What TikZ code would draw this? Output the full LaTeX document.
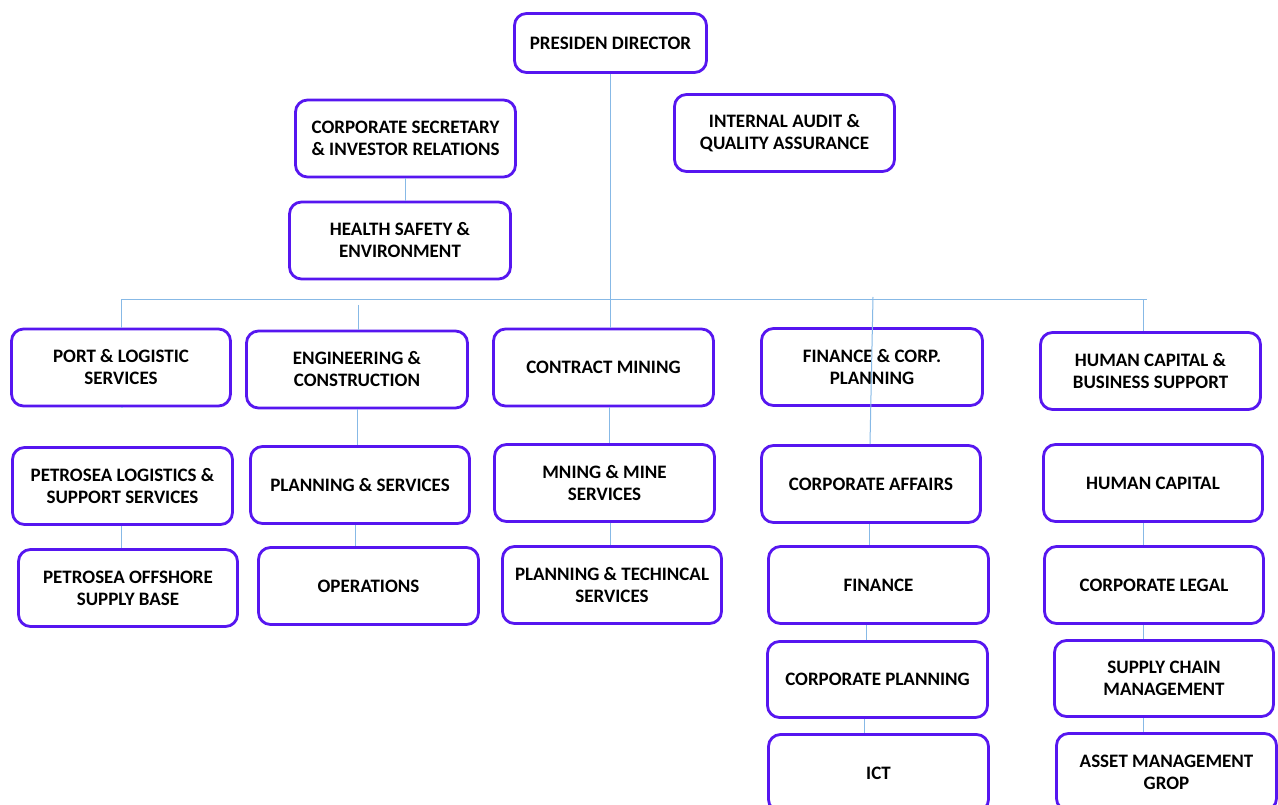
\documentclass[tikz,border=0pt]{standalone}
\usepackage{fontspec}
\setmainfont{Carlito}
\definecolor{boxc}{RGB}{86,22,240}
\definecolor{linec}{RGB}{135,185,230}
\begin{document}
\begin{tikzpicture}[x=1pt,y=-1pt,
  orgbox/.style={draw=boxc, line width=2.8pt, rounded corners=12pt, fill=white,
    minimum width=#1, minimum height=77pt, align=center, inner sep=0pt,
    font=\fontsize{19}{22}\selectfont\bfseries},
  orgbox/.default=220pt,
  conn/.style={draw=linec, line width=1pt}]
\useasboundingbox (0,0) rectangle (1278,805);
\fill[white] (0,0) rectangle (1278,805);

\coordinate (tl) at (121,300);
\coordinate (tr) at (1147,300);
\coordinate (ef) at (358,305);
\coordinate (ff) at (873,297);

% nodes
\node[orgbox=192pt, minimum height=59pt] (pres) at (610.5,43) {PRESIDEN DIRECTOR};
\node[orgbox] (cs) at (405.5,138.5) {CORPORATE SECRETARY\\\& INVESTOR RELATIONS};
\node[orgbox=221pt] (hse) at (400,240.5) {HEALTH SAFETY \&\\ENVIRONMENT};
\node[orgbox] (ia) at (784.5,133) {INTERNAL AUDIT \&\\QUALITY ASSURANCE};

\node[orgbox=219pt] (port) at (121,367.5) {PORT \& LOGISTIC\\SERVICES};
\node[orgbox=221pt] (eng) at (357,369.5) {ENGINEERING \&\\CONSTRUCTION};
\node[orgbox] (cm) at (603.5,367.5) {CONTRACT MINING};
\node[orgbox=221pt] (fin) at (872,367) {FINANCE \& CORP.\\PLANNING};
\node[orgbox] (hcb) at (1150.5,371) {HUMAN CAPITAL \&\\BUSINESS SUPPORT};

\node[orgbox] (pl) at (122.5,486) {PETROSEA LOGISTICS \&\\SUPPORT SERVICES};
\node[orgbox=219pt] (ps) at (360,485) {PLANNING \& SERVICES};
\node[orgbox] (mm) at (604.5,483) {MNING \& MINE\\SERVICES};
\node[orgbox=219pt] (ca) at (871,484) {CORPORATE AFFAIRS};
\node[orgbox=219pt] (hc) at (1153,483) {HUMAN CAPITAL};

\node[orgbox=219pt] (po) at (128,588) {PETROSEA OFFSHORE\\SUPPLY BASE};
\node[orgbox] (op) at (368.5,586) {OPERATIONS};
\node[orgbox=219pt] (pt) at (612,585) {PLANNING \& TECHINCAL\\SERVICES};
\node[orgbox] (fn) at (878.5,585) {FINANCE};
\node[orgbox=219pt] (cl) at (1154,585) {CORPORATE LEGAL};

\node[orgbox, minimum height=76pt] (cp) at (877.5,679.5) {CORPORATE PLANNING};
\node[orgbox=219pt, minimum height=76pt] (sc) at (1164,678.5) {SUPPLY CHAIN\\MANAGEMENT};

\node[orgbox] (ict) at (878.5,773) {ICT};
\node[orgbox] (am) at (1166.5,772) {ASSET MANAGEMENT\\GROP};

% connectors
\draw[conn] (pres.south) -- (pres.south |- cm.north);
\draw[conn] (cs.south) -- (cs.south |- hse.north);
\draw[conn] (tl) -- (tr);
\draw[conn] (tl) -- (tl |- port.north);
\draw[conn] (ef) -- (ef |- eng.north);
\draw[conn] ([xshift=-7.5]hcb.north |- tr) -- ([xshift=-7.5]hcb.north);
\draw[conn] (ff) -- ([xshift=-1]ca.north);

\draw[conn] (port.south) -- (port.south -| pl.north);
\draw[conn] ([xshift=-1.5]pl.south) -- ([xshift=-1.5]pl.south |- po.north);
\draw[conn] (eng.south) -- (eng.south |- ps.north);
\draw[conn] ([xshift=-5]ps.south) -- ([xshift=-5]ps.south |- op.north);
\draw[conn] ([xshift=5.5]cm.south) -- ([xshift=5.5]cm.south |- mm.north);
\draw[conn] ([xshift=5.5]mm.south) -- ([xshift=5.5]mm.south |- pt.north);
\draw[conn] ([xshift=-2]ca.south) -- ([xshift=-2]ca.south |- fn.north);
\draw[conn] ([xshift=-12.5]fn.south) -- ([xshift=-12.5]fn.south |- cp.north);
\draw[conn] ([xshift=-13.5]cp.south) -- ([xshift=-13.5]cp.south |- ict.north);
\draw[conn] ([xshift=-10]hc.south) -- ([xshift=-10]hc.south |- cl.north);
\draw[conn] ([xshift=-11]cl.south) -- ([xshift=-11]cl.south |- sc.north);
\draw[conn] ([xshift=-21]sc.south) -- ([xshift=-21]sc.south |- am.north);
\end{tikzpicture}
\end{document}
